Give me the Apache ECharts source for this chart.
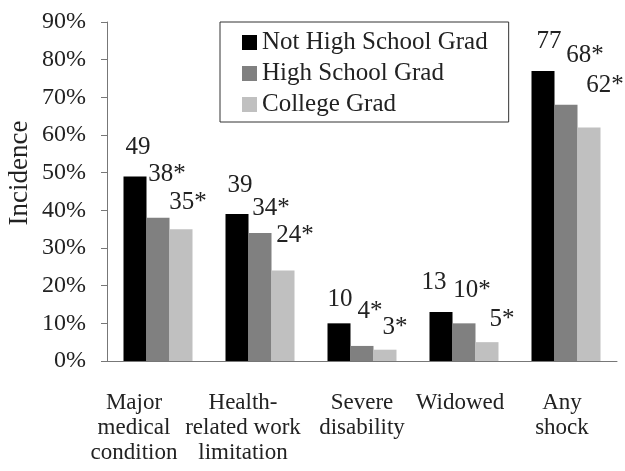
<!DOCTYPE html>
<html>
<head>
<meta charset="utf-8">
<title>Incidence of shocks by education</title>
<script src="https://cdn.jsdelivr.net/npm/echarts/dist/echarts.min.js"></script>
<style>
  html, body { margin: 0; padding: 0; background: #fff; }
  #main { width: 625px; height: 471px; }
</style>
</head>
<body>
<div id="main"></div>
<script>
// data
var categories = ['Major\nmedical\ncondition', 'Health-\nrelated work\nlimitation', 'Severe\ndisability', 'Widowed', 'Any\nshock'];
var notHighSchool = [49, 39, 10, 13, 77];
var highSchool = [38, 34, 4, 10, 68];
var college = [35, 24, 3, 5, 62];
var yTicks = [0, 10, 20, 30, 40, 50, 60, 70, 80, 90];

// label nudges so the numbers sit where they do in the original
var offsNot = [[3, -11], [3, -11], [1, -6], [-7, -12], [6, -12]];
var offsHigh = [[9, -26], [11, -7], [8, -17], [8, -15], [19, -32]];
var offsCol = [[7, -9], [12, -18], [10, -5], [15, -5], [16, -25]];
// the first two category labels are pulled left in the original
var catShift = [48, 34, 0, 8, 8];

var font = 'Liberation Serif';
var textColor = '#222';

function withOffsets(values, offs) {
    return values.map(function (v, i) {
        return { value: v, label: { offset: offs[i] } };
    });
}

function barSeries(name, values, offs, color, star) {
    return {
        name: name,
        type: 'bar',
        barWidth: 23,
        barGap: '0%',
        itemStyle: { color: color },
        label: {
            show: true,
            position: 'top',
            distance: 5,
            fontFamily: font,
            fontSize: 25,
            color: textColor,
            formatter: function (p) { return p.value + (star ? '*' : ''); }
        },
        data: withOffsets(values, offs)
    };
}

var myChart = echarts.init(document.getElementById('main'));

myChart.setOption({
    animation: false,
    grid: { left: 107, right: 8, top: 22, bottom: 110 },
    legend: {
        orient: 'vertical',
        left: 220,
        top: 22,
        padding: [8, 21, 5, 22],
        itemWidth: 15,
        itemHeight: 15,
        itemGap: 6,
        borderColor: '#333',
        borderWidth: 1,
        icon: 'rect',
        textStyle: { fontFamily: font, fontSize: 25, color: textColor, lineHeight: 22 },
        data: ['Not High School Grad', 'High School Grad', 'College Grad']
    },
    xAxis: {
        type: 'category',
        data: categories.map(function (c, i) {
            return { value: c, textStyle: { padding: [0, catShift[i], 0, 0] } };
        }),
        axisTick: { show: false },
        axisLine: { lineStyle: { color: '#777', width: 1 } },
        axisLabel: {
            interval: 0,
            margin: 29,
            fontFamily: font,
            fontSize: 23,
            lineHeight: 25,
            color: textColor
        }
    },
    yAxis: {
        type: 'value',
        min: yTicks[0],
        max: yTicks[yTicks.length - 1],
        interval: yTicks[1] - yTicks[0],
        splitLine: { show: false },
        axisLine: { show: true, lineStyle: { color: '#777', width: 1 } },
        axisTick: { show: true, length: 6, lineStyle: { color: '#777' } },
        axisLabel: {
            margin: 21,
            fontFamily: font,
            fontSize: 24,
            color: textColor,
            formatter: '{value}%'
        }
    },
    graphic: [{
        type: 'text',
        x: 20,
        y: 173,
        rotation: Math.PI / 2,
        style: {
            text: 'Incidence',
            font: '27px "Liberation Serif"',
            fill: textColor,
            align: 'center',
            verticalAlign: 'middle'
        }
    }],
    series: [
        barSeries('Not High School Grad', notHighSchool, offsNot, '#000000', false),
        barSeries('High School Grad', highSchool, offsHigh, '#808080', true),
        barSeries('College Grad', college, offsCol, '#c0c0c0', true)
    ]
});
</script>
</body>
</html>
